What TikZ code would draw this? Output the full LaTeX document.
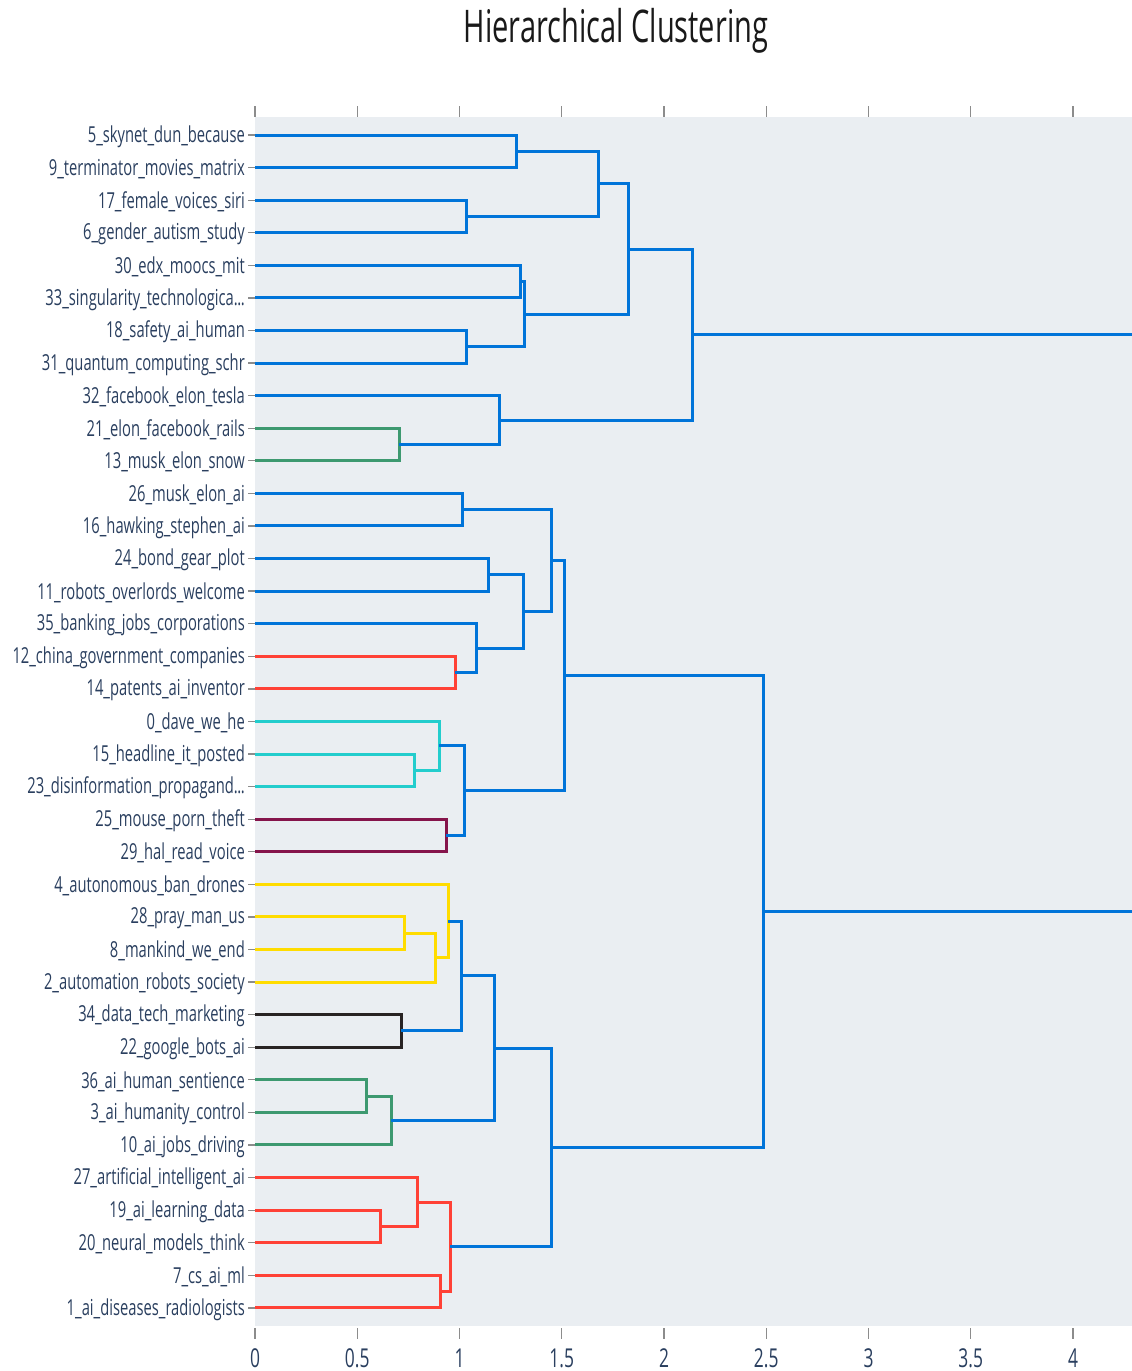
\documentclass[tikz,border=0pt]{standalone}
\usepackage{fontspec}
\usetikzlibrary{calc}
\newfontfamily\labfont[FakeStretch=0.67]{Open Sans}
\newfontfamily\titfont[FakeStretch=0.645]{Open Sans}
\newcommand{\mydots}{.\kern-0.02em.\kern-0.02em.}
\definecolor{pbg}{RGB}{234,238,242}
\definecolor{txt}{RGB}{42,63,95}
\definecolor{cblue}{RGB}{0,116,217}
\definecolor{ccyan}{RGB}{35,205,205}
\definecolor{cgreen}{RGB}{61,153,112}
\definecolor{cblack}{RGB}{40,35,35}
\definecolor{cpurple}{RGB}{133,20,75}
\definecolor{cred}{RGB}{255,65,54}
\definecolor{cyellow}{RGB}{255,220,0}
\definecolor{tickc}{RGB}{140,140,140}
\tikzset{
  link/.style={line width=3pt, line join=miter},
  leaflab/.style={anchor=east, inner sep=0pt, text=txt, font=\labfont\fontsize{22}{22}\selectfont},
  ticklab/.style={anchor=center, inner sep=0pt, text=txt, font=\labfont\fontsize{26}{26}\selectfont},
  tickmark/.style={draw=tickc, line width=1.3pt},
}
\newcommand{\Jn}[5]{% name, x, childA, childB, color
  \coordinate (tmp#1) at ($(#3)!.5!(#4)$);
  \coordinate (#1) at (#2,0 |- tmp#1);
  \draw[link,#5] (#3) -| (#1) |- (#4);
}
\begin{document}
\begin{tikzpicture}[x=1pt,y=-1pt]
\useasboundingbox (0,0) rectangle (1132,1371);
\fill[white] (0,0) rectangle (1132,1371);
\fill[pbg] (255,117) rectangle (1132,1326);
\node[font=\titfont\fontsize{45}{45}\selectfont, text=black!90, inner sep=0pt] (title) at (616,31) {Hierarchical Clustering};
% axis ticks
\foreach \v/\t in {0/0,0.5/0.5,1/1,1.5/1.5,2/2,2.5/2.5,3/3,3.5/3.5,4/4}{
  \draw[tickmark] ({255+204.5*\v},106) -- ({255+204.5*\v},117);
  \draw[tickmark] ({255+204.5*\v},1328) -- ({255+204.5*\v},1339);
  \node[ticklab] (tk\v) at ({255+204.5*\v},1358) {\t};
}
% leaves
\foreach \i/\lab in {
0/{5\_skynet\_dun\_because},
1/{9\_terminator\_movies\_matrix},
2/{17\_female\_voices\_siri},
3/{6\_gender\_autism\_study},
4/{30\_edx\_moocs\_mit},
5/{33\_singularity\_technologica\mydots},
6/{18\_safety\_ai\_human},
7/{31\_quantum\_computing\_schr},
8/{32\_facebook\_elon\_tesla},
9/{21\_elon\_facebook\_rails},
10/{13\_musk\_elon\_snow},
11/{26\_musk\_elon\_ai},
12/{16\_hawking\_stephen\_ai},
13/{24\_bond\_gear\_plot},
14/{11\_robots\_overlords\_welcome},
15/{35\_banking\_jobs\_corporations},
16/{12\_china\_government\_companies},
17/{14\_patents\_ai\_inventor},
18/{0\_dave\_we\_he},
19/{15\_headline\_it\_posted},
20/{23\_disinformation\_propagand\mydots},
21/{25\_mouse\_porn\_theft},
22/{29\_hal\_read\_voice},
23/{4\_autonomous\_ban\_drones},
24/{28\_pray\_man\_us},
25/{8\_mankind\_we\_end},
26/{2\_automation\_robots\_society},
27/{34\_data\_tech\_marketing},
28/{22\_google\_bots\_ai},
29/{36\_ai\_human\_sentience},
30/{3\_ai\_humanity\_control},
31/{10\_ai\_jobs\_driving},
32/{27\_artificial\_intelligent\_ai},
33/{19\_ai\_learning\_data},
34/{20\_neural\_models\_think},
35/{7\_cs\_ai\_ml},
36/{1\_ai\_diseases\_radiologists}}{
  \coordinate (l\i) at (255,{135+32.58*\i});
  \draw[tickmark] (248,{135+32.58*\i}) -- (l\i);
  \node[leaflab] (n\i) at (245,{136.5+32.58*\i}) {\lab};
}
% top cluster
\Jn{a1}{516}{l0}{l1}{cblue}
\Jn{a2}{466}{l2}{l3}{cblue}
\Jn{a3}{598}{a1}{a2}{cblue}
\Jn{b1}{520}{l4}{l5}{cblue}
\Jn{b2}{466}{l6}{l7}{cblue}
\Jn{b3}{524}{b1}{b2}{cblue}
\Jn{c}{628}{a3}{b3}{cblue}
\Jn{d1}{399}{l9}{l10}{cgreen}
\Jn{d2}{499}{l8}{d1}{cblue}
\Jn{e}{692}{c}{d2}{cblue}
% middle cluster
\Jn{f1}{462}{l11}{l12}{cblue}
\Jn{g1}{488}{l13}{l14}{cblue}
\Jn{h1}{455}{l16}{l17}{cred}
\Jn{h2}{476}{l15}{h1}{cblue}
\Jn{g2}{523}{g1}{h2}{cblue}
\Jn{f2}{551}{f1}{g2}{cblue}
\Jn{i1}{414}{l19}{l20}{ccyan}
\Jn{i2}{439}{l18}{i1}{ccyan}
\Jn{j1}{446}{l21}{l22}{cpurple}
\Jn{k}{464}{i2}{j1}{cblue}
\Jn{lL}{564}{f2}{k}{cblue}
% bottom cluster
\Jn{n1}{404}{l24}{l25}{cyellow}
\Jn{n2}{435}{n1}{l26}{cyellow}
\Jn{n3}{448}{l23}{n2}{cyellow}
\Jn{o1}{401}{l27}{l28}{cblack}
\Jn{p}{461}{n3}{o1}{cblue}
\Jn{q1}{366}{l29}{l30}{cgreen}
\Jn{q2}{391}{q1}{l31}{cgreen}
\Jn{r}{494}{p}{q2}{cblue}
\Jn{s1}{380}{l33}{l34}{cred}
\Jn{s2}{417}{l32}{s1}{cred}
\Jn{s3}{440}{l35}{l36}{cred}
\Jn{s4}{450}{s2}{s3}{cred}
\Jn{t}{551}{r}{s4}{cblue}
\Jn{m}{763}{lL}{t}{cblue}
% root (clipped at right edge)
\coordinate (re) at (1132,0 |- e);
\coordinate (rm) at (1132,0 |- m);
\draw[link,cblue] (e) -- (re);
\draw[link,cblue] (m) -- (rm);
\end{tikzpicture}
\end{document}
